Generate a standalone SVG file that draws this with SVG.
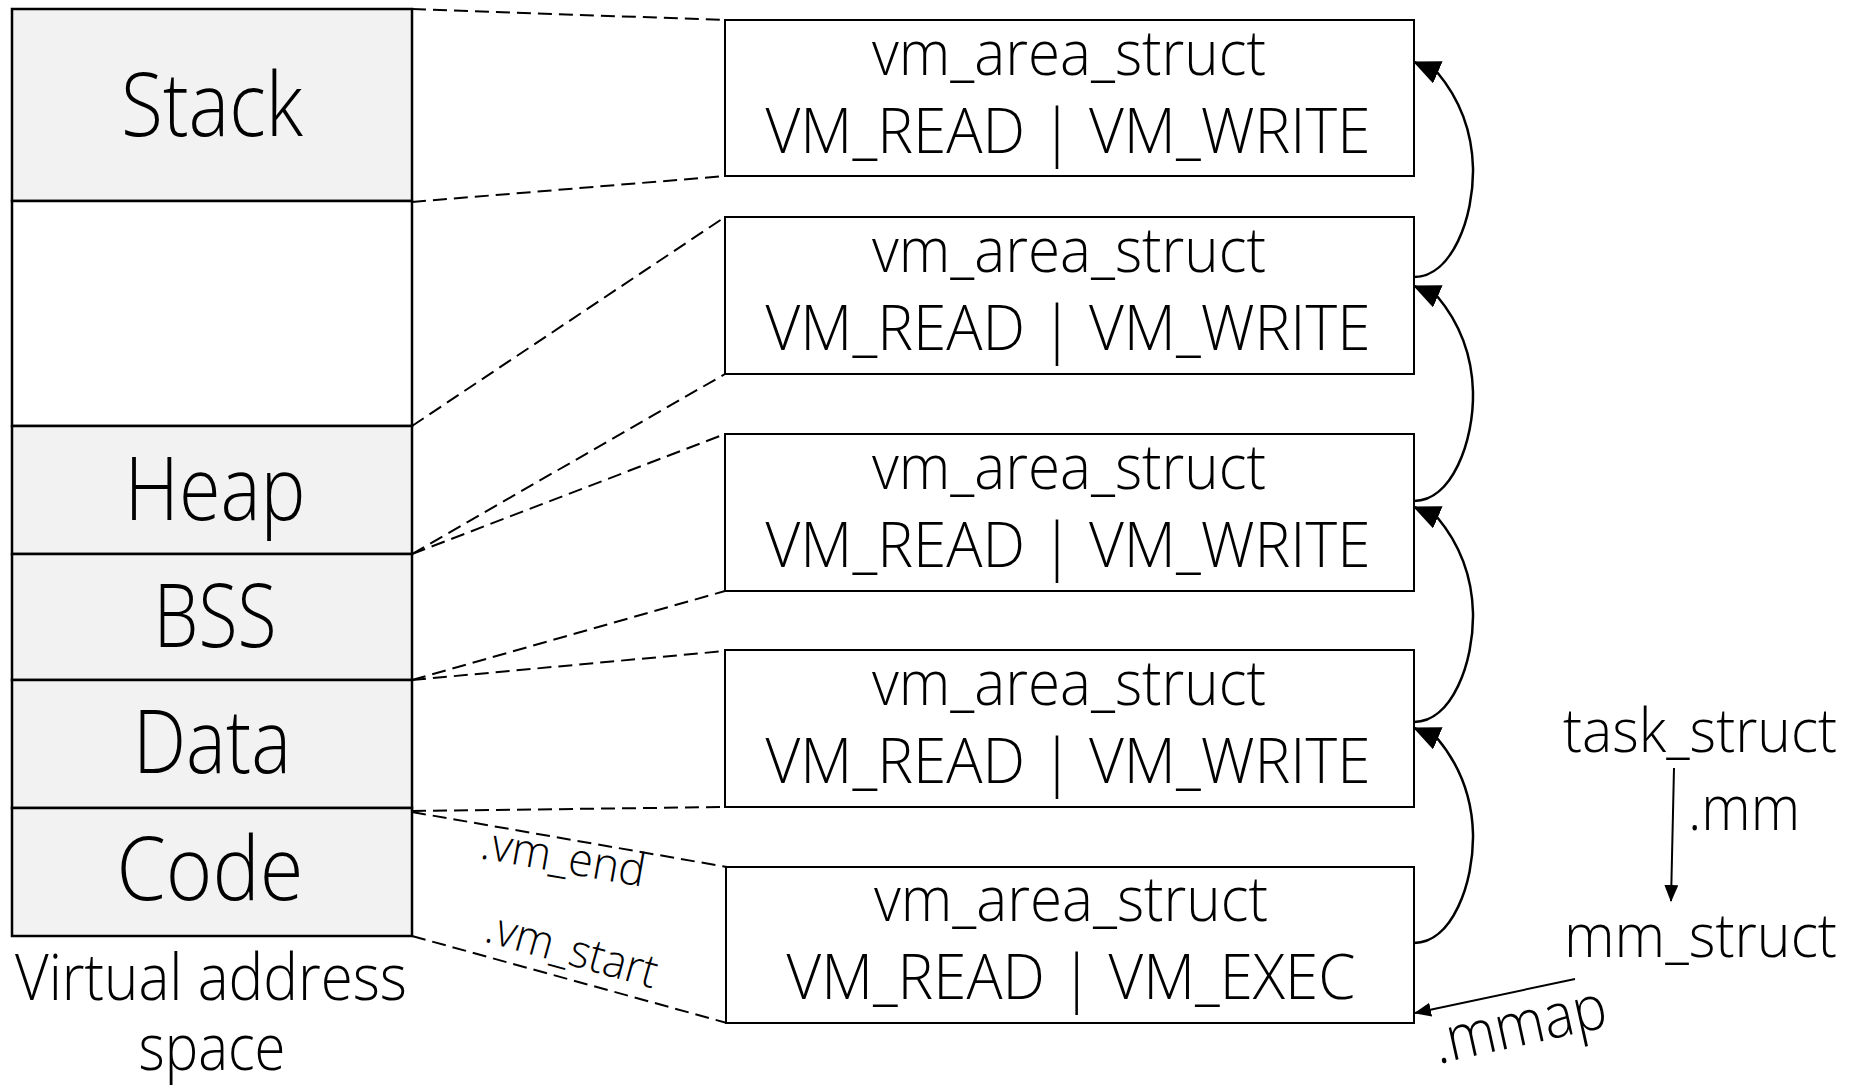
<svg xmlns="http://www.w3.org/2000/svg" width="1854" height="1086" viewBox="0 0 1854 1086">
<style>
text{font-family:"Open Sans","Noto Sans","Liberation Sans",sans-serif;font-weight:300;fill:#000}
.seg{stroke:#000;stroke-width:2.5}
.gray{fill:#f2f2f2}
.white{fill:#fff}
.box{fill:#fff;stroke:#000;stroke-width:2}
.big{font-size:88px;text-anchor:middle}
.mid{font-size:62px;text-anchor:middle}
.lbl{font-size:60px}
.sm{font-size:46px}
.dash{fill:none;stroke:#000;stroke-width:2;stroke-dasharray:14 7}
.arc{fill:none;stroke:#000;stroke-width:2.5}
.ln{fill:none;stroke:#000;stroke-width:2}
</style>
<defs>
<marker id="big" markerUnits="userSpaceOnUse" markerWidth="27" markerHeight="24" viewBox="0 0 27 24" refX="26" refY="12" orient="auto"><path d="M0,0 L27,12 L0,24 z" fill="#000"/></marker>
<marker id="small" markerUnits="userSpaceOnUse" markerWidth="17" markerHeight="14" viewBox="0 0 17 14" refX="16" refY="7" orient="auto"><path d="M0,0 L17,7 L0,14 z" fill="#000"/></marker>
</defs>

<g id="vas">
<g id="stack"><rect class="seg gray" x="12" y="9" width="400" height="192"/><text class="big" x="212" y="136" textLength="182" lengthAdjust="spacingAndGlyphs">Stack</text></g>
<g id="gap"><rect class="seg white" x="12" y="201" width="400" height="225"/></g>
<g id="heap"><rect class="seg gray" x="12" y="426" width="400" height="128"/><text class="big" x="215" y="520" textLength="181" lengthAdjust="spacingAndGlyphs">Heap</text></g>
<g id="bss"><rect class="seg gray" x="12" y="554" width="400" height="126"/><text class="big" x="215" y="647" textLength="123" lengthAdjust="spacingAndGlyphs">BSS</text></g>
<g id="data"><rect class="seg gray" x="12" y="680" width="400" height="128"/><text class="big" x="212" y="773" textLength="158" lengthAdjust="spacingAndGlyphs">Data</text></g>
<g id="code"><rect class="seg gray" x="12" y="808" width="400" height="128"/><text class="big" x="210" y="900" textLength="187" lengthAdjust="spacingAndGlyphs">Code</text></g>
<text style="font-size:64px;text-anchor:middle" x="211" y="1000" textLength="392" lengthAdjust="spacingAndGlyphs">Virtual address</text>
<text style="font-size:64px;text-anchor:middle" x="212" y="1070" textLength="147" lengthAdjust="spacingAndGlyphs">space</text>
</g>

<g id="vma1"><rect class="box" x="725" y="20" width="689" height="156"/>
<text class="mid" x="1069" y="75" textLength="394" lengthAdjust="spacingAndGlyphs">vm_area_struct</text>
<text class="mid" x="1068" y="153" textLength="605" lengthAdjust="spacingAndGlyphs">VM_READ | VM_WRITE</text></g>
<g id="vma2"><rect class="box" x="725" y="217" width="689" height="157"/>
<text class="mid" x="1069" y="272" textLength="394" lengthAdjust="spacingAndGlyphs">vm_area_struct</text>
<text class="mid" x="1068" y="350" textLength="605" lengthAdjust="spacingAndGlyphs">VM_READ | VM_WRITE</text></g>
<g id="vma3"><rect class="box" x="725" y="434" width="689" height="157"/>
<text class="mid" x="1069" y="489" textLength="394" lengthAdjust="spacingAndGlyphs">vm_area_struct</text>
<text class="mid" x="1068" y="567" textLength="605" lengthAdjust="spacingAndGlyphs">VM_READ | VM_WRITE</text></g>
<g id="vma4"><rect class="box" x="725" y="650" width="689" height="157"/>
<text class="mid" x="1069" y="705" textLength="394" lengthAdjust="spacingAndGlyphs">vm_area_struct</text>
<text class="mid" x="1068" y="783" textLength="605" lengthAdjust="spacingAndGlyphs">VM_READ | VM_WRITE</text></g>
<g id="vma5"><rect class="box" x="726" y="867" width="688" height="156"/>
<text class="mid" x="1071" y="921" textLength="394" lengthAdjust="spacingAndGlyphs">vm_area_struct</text>
<text class="mid" x="1071" y="999" textLength="569" lengthAdjust="spacingAndGlyphs">VM_READ | VM_EXEC</text></g>

<g id="task"><text class="lbl" x="1837" y="752" text-anchor="end" textLength="274" lengthAdjust="spacingAndGlyphs">task_struct</text></g>
<g id="mm"><text class="lbl" x="1837" y="957" text-anchor="end" textLength="273" lengthAdjust="spacingAndGlyphs">mm_struct</text></g>

<g id="connectors">
<path class="dash" d="M412,9 L725,20"/>
<path class="dash" d="M412,202 L725,176"/>
<path class="dash" d="M412,426 L725,217"/>
<path class="dash" d="M412,554 L725,374"/>
<path class="dash" d="M412,554 L725,434"/>
<path class="dash" d="M412,680 L725,591"/>
<path class="dash" d="M412,680 L725,651"/>
<path class="dash" d="M412,811 L726,807"/>
<path class="dash" d="M412,812 L727,867"/>
<path class="dash" d="M412,936 L727,1023"/>
<text class="sm" x="479" y="858" transform="rotate(10 479 858)" textLength="166" lengthAdjust="spacingAndGlyphs">.vm_end</text>
<text class="sm" x="483" y="941" transform="rotate(15.6 483 941)" textLength="176" lengthAdjust="spacingAndGlyphs">.vm_start</text>

<path class="arc" marker-end="url(#big)" d="M1414,277 C1452,277 1474,217 1473,168 C1472,127 1458,97 1437,72 L1414,62"/>
<path class="arc" marker-end="url(#big)" d="M1414,501 C1452,501 1474,441 1473,392 C1472,351 1458,321 1437,296 L1414,286"/>
<path class="arc" marker-end="url(#big)" d="M1414,722 C1452,722 1474,662 1473,613 C1472,572 1458,542 1437,517 L1414,507"/>
<path class="arc" marker-end="url(#big)" d="M1414,943 C1452,943 1474,883 1473,834 C1472,793 1458,763 1437,738 L1414,728"/>

<path class="ln" marker-end="url(#small)" d="M1674,768 L1671,901"/>
<text style="font-size:62px" x="1688" y="830" textLength="112" lengthAdjust="spacingAndGlyphs">.mm</text>
<path class="ln" marker-end="url(#small)" d="M1575,979 L1415,1013"/>
<text style="font-size:62px" x="1438" y="1064" transform="rotate(-12.4 1438 1064)" textLength="176" lengthAdjust="spacingAndGlyphs">.mmap</text>
</g>
</svg>
